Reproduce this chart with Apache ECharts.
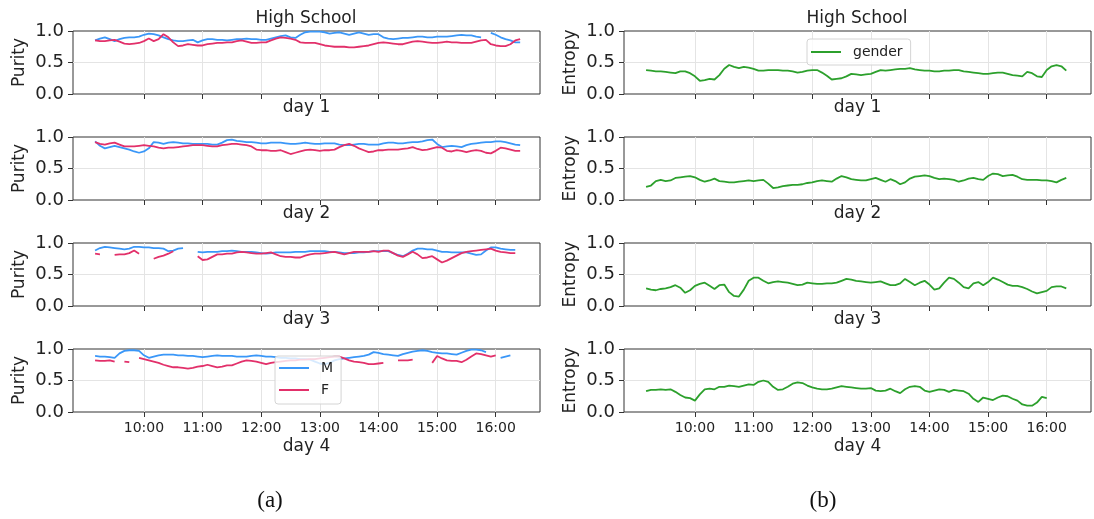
<!DOCTYPE html>
<html>
<head>
<meta charset="utf-8">
<script src="https://cdn.jsdelivr.net/npm/echarts@6/dist/echarts.min.js"></script>
<style>
  html, body { margin: 0; padding: 0; background: #fff; }
  #chart { width: 1094px; height: 519px; }
</style>
</head>
<body>
<div id="chart"></div>
<script>
// sample times (5 min steps)
const times = [
  '9:10','9:15','9:20','9:25','9:30','9:35','9:40','9:45','9:50','9:55',
  '10:00','10:05','10:10','10:15','10:20','10:25','10:30','10:35','10:40','10:45','10:50','10:55',
  '11:00','11:05','11:10','11:15','11:20','11:25','11:30','11:35','11:40','11:45','11:50','11:55',
  '12:00','12:05','12:10','12:15','12:20','12:25','12:30','12:35','12:40','12:45','12:50','12:55',
  '13:00','13:05','13:10','13:15','13:20','13:25','13:30','13:35','13:40','13:45','13:50','13:55',
  '14:00','14:05','14:10','14:15','14:20','14:25','14:30','14:35','14:40','14:45','14:50','14:55',
  '15:00','15:05','15:10','15:15','15:20','15:25','15:30','15:35','15:40','15:45','15:50','15:55',
  '16:00','16:05','16:10','16:15','16:20','16:25'
];
const hourTicks = [10, 11, 12, 13, 14, 15, 16];
const dayNames = ['day 1', 'day 2', 'day 3', 'day 4'];

// purity, male
const purityM1 = [.85,.88,.90,.87,.84,.87,.89,.90,.90,.91, .94,.96,.95,.93,.90,.87,.85,.84,.84,.85,
  .86,.82,.85,.87,.87,.86,.86,.85,.86,.87, .87,.88,.87,.87,.86,.86,.88,.90,.92,.93,
  .90,.89,.94,.98,.99,.99,.99,.98,.96,.97, .98,.96,.94,.96,.98,.96,.94,.95,.95,.90,
  .88,.87,.88,.89,.89,.90,.91,.91,.90,.90, .91,.91,.91,.92,.93,.94,.93,.93,.91,.90,
  null,.97,.94,.90,.87,.85,.82,.82];
const purityM2 = [.93,.86,.82,.84,.86,.84,.82,.80,.77,.75, .77,.82,.92,.91,.89,.91,.92,.91,.90,.90,
  .89,.89,.89,.89,.88,.88,.91,.95,.96,.94, .93,.92,.92,.91,.90,.90,.91,.91,.91,.90,
  .89,.89,.90,.91,.90,.89,.89,.90,.90,.90, .88,.87,.87,.88,.89,.89,.88,.88,.88,.90,
  .91,.91,.90,.90,.91,.92,.92,.93,.95,.96, .89,.84,.85,.86,.85,.84,.87,.89,.90,.91,
  .92,.92,.93,.93,.92,.90,.88,.87];
const purityM3 = [.88,.92,.94,.93,.92,.91,.90,.91,.94,.94, .93,.93,.92,.92,.91,.87,.88,.91,.92,null,
  null,.86,.85,.86,.86,.86,.87,.87,.88,.87, .86,.86,.86,.85,.84,.83,.84,.85,.85,.85,
  .85,.86,.86,.86,.87,.87,.87,.87,.86,.86, .85,.84,.84,.84,.85,.85,.86,.87,.87,.87,
  .87,.84,.81,.79,.83,.88,.91,.91,.90,.90, .88,.86,.86,.85,.85,.85,.85,.83,.81,.82,
  .88,.93,.93,.91,.90,.89,.89,null];
const purityM4 = [.89,.88,.88,.87,.86,.93,.97,.98,.98,.97, .90,.86,.88,.90,.91,.91,.91,.90,.90,.89,
  .89,.88,.87,.88,.89,.90,.89,.89,.89,.88, .88,.88,.89,.90,.89,.88,.88,.87,.86,.86,
  .85,.85,.84,.84,.83,.80,.77,.76,.78,.82, .84,.85,.86,.87,.88,.89,.91,.95,.94,.92,
  .91,.90,.89,.92,.94,.96,.97,.98,.97,.95, .94,.93,.93,.92,.91,.94,.97,.99,.99,.98,
  .95,null,null,.86,.88,.90,null,null];

// purity, female
const purityF1 = [.85,.84,.84,.85,.86,.83,.80,.79,.80,.81, .84,.88,.84,.87,.95,.90,.82,.76,.77,.79,
  .78,.77,.77,.79,.80,.81,.81,.82,.82,.84, .85,.83,.81,.81,.82,.82,.85,.88,.90,.89,
  .88,.86,.82,.81,.81,.81,.79,.77,.76,.75, .75,.75,.74,.74,.75,.76,.77,.79,.81,.82,
  .81,.80,.79,.79,.81,.83,.84,.83,.82,.81, .81,.82,.83,.82,.82,.81,.81,.81,.83,.85,
  .86,.79,.77,.76,.76,.79,.85,.87];
const purityF2 = [.92,.89,.88,.90,.91,.88,.85,.85,.85,.86, .87,.86,.85,.83,.82,.83,.83,.84,.85,.86,
  .87,.87,.87,.86,.85,.85,.87,.88,.89,.89, .88,.87,.85,.80,.79,.79,.78,.78,.79,.76,
  .73,.75,.77,.79,.80,.79,.78,.79,.79,.80, .84,.87,.89,.86,.82,.79,.76,.77,.79,.79,
  .80,.80,.80,.81,.82,.84,.81,.79,.80,.82, .84,.83,.78,.77,.79,.78,.76,.78,.79,.78,
  .75,.74,.78,.83,.82,.80,.78,.78];
const purityF3 = [.83,.82,null,null,.81,.82,.82,.84,.88,.83, null,null,.75,.78,.80,.83,.87,null,null,null,
  null,.79,.73,.74,.78,.82,.82,.83,.83,.85, .86,.85,.84,.83,.83,.84,.85,.82,.79,.78,
  .78,.77,.77,.80,.82,.83,.83,.84,.85,.86, .84,.82,.84,.86,.86,.86,.86,.87,.86,.88,
  .88,.84,.80,.78,.82,.86,.82,.76,.77,.79, .74,.69,.72,.76,.80,.84,.86,.87,.88,.89,
  .90,.91,.88,.86,.85,.84,.84,null];
const purityF4 = [.82,.81,.81,.82,.80,null,.80,.79,null,.86, .84,.82,.80,.78,.75,.73,.71,.71,.70,.69,
  .70,.72,.73,.75,.73,.71,.72,.74,.74,.77, .80,.82,.81,.80,.78,.76,.78,.79,.80,.81,
  .82,.82,.83,.83,.84,.84,.85,.86,.87,.88, .88,.85,.82,.80,.79,.78,.76,.76,.77,.78,
  null,null,.82,.82,.82,.83,null,null,null,.78, .89,.85,.82,.81,.81,.79,.83,.88,.93,.92,
  .90,.88,.90,null,null,null,null,null];

// entropy, gender
const entropy1 = [.38,.37,.36,.36,.35,.34,.33,.36,.36,.33, .28,.21,.22,.24,.23,.30,.40,.46,.43,.41,
  .43,.42,.40,.37,.37,.38,.38,.38,.37,.37, .36,.34,.35,.37,.38,.38,.34,.29,.23,.24,
  .25,.28,.32,.31,.30,.31,.32,.35,.38,.37, .38,.39,.40,.40,.41,.39,.38,.37,.37,.36,
  .36,.37,.37,.38,.38,.36,.35,.34,.33,.32, .32,.33,.34,.34,.32,.30,.29,.28,.35,.33,
  .28,.27,.38,.44,.46,.44,.37,null];
const entropy2 = [.21,.23,.30,.32,.30,.31,.35,.36,.37,.38, .36,.32,.29,.31,.34,.30,.29,.28,.28,.29,
  .30,.31,.30,.31,.32,.26,.19,.20,.22,.23, .24,.24,.25,.27,.28,.30,.31,.30,.29,.34,
  .38,.36,.33,.32,.31,.31,.33,.35,.32,.29, .33,.30,.25,.28,.34,.37,.38,.39,.38,.35,
  .33,.34,.33,.32,.29,.31,.34,.35,.33,.32, .38,.42,.41,.38,.39,.40,.37,.33,.32,.32,
  .32,.31,.31,.30,.28,.32,.35,null];
const entropy3 = [.28,.26,.25,.27,.28,.30,.33,.29,.21,.25, .32,.35,.37,.32,.27,.33,.34,.22,.16,.15,
  .26,.40,.45,.45,.40,.36,.38,.39,.38,.37, .35,.33,.34,.37,.36,.35,.35,.36,.36,.37,
  .40,.43,.42,.40,.39,.38,.37,.38,.39,.36, .33,.33,.36,.43,.38,.33,.37,.40,.34,.26,
  .28,.37,.45,.43,.37,.30,.28,.36,.38,.33, .38,.45,.42,.38,.34,.32,.32,.30,.27,.23,
  .20,.22,.24,.30,.31,.31,.28,null];
const entropy4 = [.33,.35,.35,.36,.35,.36,.32,.27,.23,.22, .18,.28,.36,.37,.36,.40,.40,.42,.41,.40,
  .42,.44,.43,.48,.50,.48,.40,.35,.36,.40, .45,.47,.46,.42,.39,.37,.36,.36,.37,.39,
  .41,.40,.39,.38,.37,.37,.38,.34,.33,.34, .37,.33,.30,.36,.40,.41,.40,.34,.32,.34,
  .36,.35,.32,.35,.34,.33,.29,.21,.16,.23, .21,.19,.23,.26,.25,.21,.18,.12,.10,.10,
  .15,.24,.22,null,null,null,null,null];

const purityM = [purityM1, purityM2, purityM3, purityM4];
const purityF = [purityF1, purityF2, purityF3, purityF4];
const entropy = [entropy1, entropy2, entropy3, entropy4];

const BLUE = '#3a97f8', RED = '#e2306a', GREEN = '#2ca02c';
const TEXT = '#222';

function toHours(t) {
  const [h, m] = t.split(':').map(Number);
  return h + m / 60;
}
function pairs(vals) {
  return vals.map((v, i) => [toHours(times[i]), v == null ? '-' : v]);
}

const tops = [31, 137, 243, 349];
const grids = [], xAxes = [], yAxes = [], series = [];

[['left', 73, 'Purity'], ['right', 624, 'Entropy']].forEach(([side, left], col) => {
  tops.forEach((top, row) => {
    const k = col * 4 + row;
    const last = row === 3;
    grids.push({
      left, top, width: 467, height: 63,
      show: true, borderColor: '#333', borderWidth: 1, backgroundColor: 'transparent'
    });
    xAxes.push({
      gridIndex: k, type: 'value', min: 8.79, max: 16.755,
      axisLine: { show: false },
      axisTick: { show: true, customValues: hourTicks, length: 5, lineStyle: { color: '#333' } },
      axisLabel: {
        show: last, customValues: hourTicks, fontSize: 14, color: TEXT, margin: 9,
        formatter: v => v + ':00'
      },
      splitLine: { show: true, lineStyle: { color: '#e4e4e4', width: 1 } },
      name: dayNames[row], nameLocation: 'middle', nameGap: last ? 26 : 5,
      nameTextStyle: { fontSize: 17, color: TEXT, verticalAlign: 'top' }
    });
    yAxes.push({
      gridIndex: k, type: 'value', min: 0, max: 1, interval: 0.5,
      axisLine: { show: false },
      axisTick: { show: true, length: 5, lineStyle: { color: '#333' } },
      axisLabel: { fontSize: 18, color: TEXT, margin: 9, formatter: v => v.toFixed(1) },
      splitLine: { show: true, showMinLine: false, showMaxLine: false, lineStyle: { color: '#e4e4e4', width: 1 } },
      name: col === 0 ? 'Purity' : 'Entropy', nameLocation: 'middle', nameGap: 45,
      nameTextStyle: { fontSize: 17, color: TEXT }
    });
    const base = { type: 'line', xAxisIndex: k, yAxisIndex: k, showSymbol: false, symbol: 'none',
      connectNulls: false, z: 3 };
    if (col === 0) {
      series.push(Object.assign({}, base, { name: 'M', data: pairs(purityM[row]),
        lineStyle: { color: BLUE, width: 1.8 }, itemStyle: { color: BLUE } }));
      series.push(Object.assign({}, base, { name: 'F', data: pairs(purityF[row]),
        lineStyle: { color: RED, width: 1.8 }, itemStyle: { color: RED } }));
    } else {
      series.push(Object.assign({}, base, { name: 'gender', data: pairs(entropy[row]),
        lineStyle: { color: GREEN, width: 1.8 }, itemStyle: { color: GREEN } }));
    }
  });
});

const legendBase = {
  orient: 'vertical', icon: 'rect', itemWidth: 30, itemHeight: 2,
  backgroundColor: 'rgba(255,255,255,0.8)', borderColor: '#d4d4d4', borderWidth: 1,
  borderRadius: 3, selectedMode: false, z: 10,
  textStyle: { fontSize: 14, color: TEXT, lineHeight: 16, padding: [0, 0, 0, 7] }
};

const chart = echarts.init(document.getElementById('chart'), null, { renderer: 'canvas' });
chart.setOption({
  animation: false,
  textStyle: { fontFamily: 'DejaVu Sans' },
  title: [
    { text: 'High School', left: 306, top: 10, textAlign: 'center', padding: 0,
      textStyle: { fontSize: 17, fontWeight: 'normal', color: TEXT } },
    { text: 'High School', left: 857, top: 10, textAlign: 'center', padding: 0,
      textStyle: { fontSize: 17, fontWeight: 'normal', color: TEXT } },
    { text: '(a)', left: 270, top: 489, textAlign: 'center', padding: 0,
      textStyle: { fontSize: 23, fontWeight: 'normal', color: '#111', fontFamily: 'Liberation Serif' } },
    { text: '(b)', left: 823, top: 489, textAlign: 'center', padding: 0,
      textStyle: { fontSize: 23, fontWeight: 'normal', color: '#111', fontFamily: 'Liberation Serif' } }
  ],
  legend: [
    Object.assign({}, legendBase, { data: ['M', 'F'], left: 275, top: 356, itemGap: 6,
      padding: [4, 8, 6, 4] }),
    Object.assign({}, legendBase, { data: ['gender'], left: 807, top: 39,
      padding: [5, 8, 5, 4] })
  ],
  grid: grids,
  xAxis: xAxes,
  yAxis: yAxes,
  series
});
</script>
</body>
</html>
